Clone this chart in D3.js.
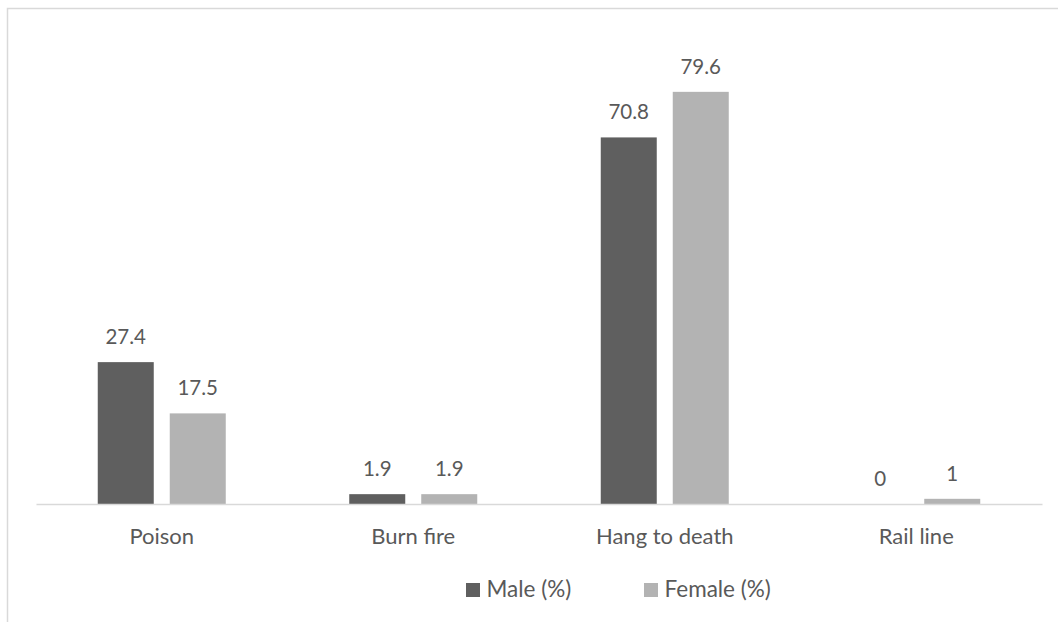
<!DOCTYPE html>
<html>
<head>
<meta charset="utf-8">
<script src="https://cdn.jsdelivr.net/npm/d3@7"></script>
<style>
  html, body { margin: 0; padding: 0; background: #fff; }
  svg { display: block; }
  text { font-family: Lato, "Open Sans", sans-serif; fill: #595959; }
</style>
</head>
<body>
<svg id="chart" width="1058" height="622"></svg>
<script>
const categories = ["Poison", "Burn fire", "Hang to death", "Rail line"];
const seriesNames = ["Male (%)", "Female (%)"];
const maleValues = [27.4, 1.9, 70.8, 0];
const femaleValues = [17.5, 1.9, 79.6, 1];
const seriesColors = ["#5f5f5f", "#b3b3b3"];

const svg = d3.select("#chart");

// chart frame (only top and left edges visible)
svg.append("rect")
  .attr("x", 7.5).attr("y", 8.5)
  .attr("width", 1200).attr("height", 800)
  .attr("fill", "none").attr("stroke", "#d9d9d9").attr("stroke-width", 1.5);

const plot = { left: 36, right: 1042, top: 38, bottom: 504 };

const x0 = d3.scaleBand().domain(categories).range([plot.left, plot.right]).paddingInner(0).paddingOuter(0);
const groupOuter = 61.75;
const x1 = d3.scaleBand().domain(seriesNames)
  .range([groupOuter, x0.bandwidth() - groupOuter])
  .paddingInner(0.2222).paddingOuter(0);
const y = d3.scaleLinear().domain([0, 90]).range([plot.bottom, plot.top]);

const data = categories.map((c, i) => ({
  category: c,
  values: [
    { series: seriesNames[0], value: maleValues[i], color: seriesColors[0] },
    { series: seriesNames[1], value: femaleValues[i], color: seriesColors[1] }
  ]
}));

const groups = svg.append("g").selectAll("g").data(data).join("g")
  .attr("transform", d => `translate(${x0(d.category)},0)`);

groups.selectAll("rect").data(d => d.values).join("rect")
  .attr("x", d => x1(d.series))
  .attr("width", x1.bandwidth())
  .attr("y", d => y(d.value))
  .attr("height", d => y(0) - y(d.value))
  .attr("fill", d => d.color);

groups.selectAll("text.val").data(d => d.values).join("text")
  .attr("class", "val")
  .attr("x", d => x1(d.series) + x1.bandwidth() / 2)
  .attr("y", d => y(d.value) - 18)
  .attr("text-anchor", "middle")
  .attr("font-size", 20.5)
  .text(d => d.value);

// x axis
const xAxis = d3.axisBottom(x0).tickSize(0).tickPadding(0);
const axisG = svg.append("g").attr("transform", `translate(0,${plot.bottom})`).call(xAxis);
axisG.select(".domain").attr("stroke", "#d9d9d9").attr("stroke-width", 1.5);
axisG.selectAll(".tick text")
  .attr("font-size", 22)
  .attr("font-family", "Lato, 'Open Sans', sans-serif")
  .attr("fill", "#595959")
  .attr("dy", null)
  .attr("y", 40);

// legend
const legendItems = [
  { name: seriesNames[0], color: seriesColors[0], x: 466 },
  { name: seriesNames[1], color: seriesColors[1], x: 644 }
];
const lg = svg.append("g");
const li = lg.selectAll("g").data(legendItems).join("g")
  .attr("transform", d => `translate(${d.x},583)`);
li.append("rect").attr("width", 14).attr("height", 14).attr("fill", d => d.color);
li.append("text").attr("x", 20.5).attr("y", 14).attr("font-size", 22.5).text(d => d.name);
</script>
</body>
</html>
